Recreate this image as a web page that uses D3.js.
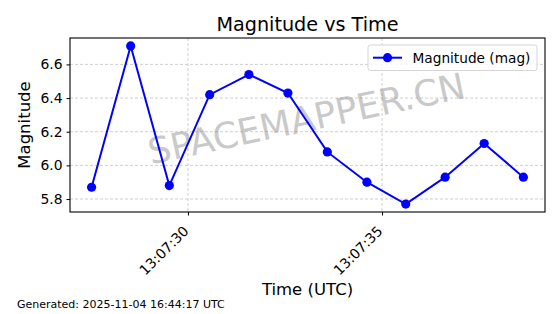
<!DOCTYPE html>
<html>
<head>
<meta charset="utf-8">
<script src="https://cdn.jsdelivr.net/npm/d3@7"></script>
<style>
  body { margin: 0; background: #fff; }
  svg { display: block; font-family: "DejaVu Sans", sans-serif; }
</style>
</head>
<body>
<script>
// readings (UTC time, magnitude)
let times = ["13:07:27.518", "13:07:28.525", "13:07:29.520", "13:07:30.560", "13:07:31.570", "13:07:32.575",
             "13:07:33.590", "13:07:34.610", "13:07:35.610", "13:07:36.625", "13:07:37.630", "13:07:38.640"];
let magnitudes = [5.87, 6.71, 5.88, 6.42, 6.54, 6.43, 6.08, 5.90, 5.77, 5.93, 6.13, 5.93];
let yTicks = [5.8, 6.0, 6.2, 6.4, 6.6];

let w = 560;
let h = 314;
let pLeft = 70, pRight = 545, pTop = 38, pBottom = 212;

let parseTime = d3.timeParse("%H:%M:%S.%L");
let data = times.map((t, i) => ({ t: parseTime(t), v: magnitudes[i] }));

const svg = d3.select("body")
    .append("svg")
    .attr("width", w)
    .attr("height", h);

// matplotlib style 5% margins
let tExt = d3.extent(data, d => +d.t);
let tPad = (tExt[1] - tExt[0]) * 0.05;
let vExt = d3.extent(data, d => d.v);
let vPad = (vExt[1] - vExt[0]) * 0.05;

const xScale = d3.scaleTime()
    .domain([new Date(tExt[0] - tPad), new Date(tExt[1] + tPad)])
    .range([pLeft, pRight]);

const yScale = d3.scaleLinear()
    .domain([vExt[0] - vPad, vExt[1] + vPad])
    .range([pBottom, pTop]);

let xTicks = xScale.ticks(d3.timeSecond.every(5));

// grid
let grid = svg.append("g")
    .attr("stroke", "#b0b0b0")
    .attr("stroke-width", 0.8)
    .attr("stroke-dasharray", "3,2")
    .attr("opacity", 0.75);

grid.selectAll(".gy")
    .data(yTicks)
    .enter()
    .append("line")
    .attr("x1", pLeft).attr("x2", pRight)
    .attr("y1", d => yScale(d)).attr("y2", d => yScale(d));

grid.selectAll(".gx")
    .data(xTicks)
    .enter()
    .append("line")
    .attr("y1", pTop).attr("y2", pBottom)
    .attr("x1", d => xScale(d)).attr("x2", d => xScale(d));

// watermark
svg.append("text")
    .attr("transform", "translate(309,131) rotate(-12)")
    .attr("text-anchor", "middle")
    .style("font-size", "36px")
    .style("fill", "#808080")
    .style("opacity", 0.42)
    .text("SPACEMAPPER.CN");

// line + markers
const line = d3.line()
    .x(d => xScale(d.t))
    .y(d => yScale(d.v));

svg.append("path")
    .datum(data)
    .attr("d", line)
    .attr("fill", "none")
    .attr("stroke", "#0000ff")
    .attr("stroke-width", 2);

svg.selectAll(".dot")
    .data(data)
    .enter()
    .append("circle")
    .attr("class", "dot")
    .attr("cx", d => xScale(d.t))
    .attr("cy", d => yScale(d.v))
    .attr("r", 4.6)
    .attr("fill", "#0000ff");

// axes
const yAxis = d3.axisLeft(yScale).tickValues(yTicks).tickFormat(d3.format(".1f")).tickSize(3.5).tickPadding(4);
const xAxis = d3.axisBottom(xScale).tickValues(xTicks).tickFormat(d3.timeFormat("%H:%M:%S")).tickSize(3.5);

svg.append("g")
    .attr("transform", "translate(" + pLeft + ",0)")
    .call(yAxis)
    .call(g => g.select(".domain").remove())
    .call(g => g.selectAll("text").style("font-size", "13.9px").attr("fill", "#000").style("font-family", "DejaVu Sans"))
    .call(g => g.selectAll("line").attr("stroke", "#000"));

svg.append("g")
    .attr("transform", "translate(0," + pBottom + ")")
    .call(xAxis)
    .call(g => g.select(".domain").remove())
    .call(g => g.selectAll("line").attr("stroke", "#000"))
    .call(g => g.selectAll("text")
        .style("font-size", "13.9px")
        .style("font-family", "DejaVu Sans")
        .attr("fill", "#000")
        .attr("text-anchor", "end")
        .attr("y", null).attr("dy", null)
        .attr("transform", "translate(1,20) rotate(-45)"));

// frame
svg.append("rect")
    .attr("x", pLeft).attr("y", pTop)
    .attr("width", pRight - pLeft).attr("height", pBottom - pTop)
    .attr("fill", "none")
    .attr("stroke", "#000")
    .attr("stroke-width", 1.1);

// title + labels
svg.append("text")
    .attr("x", (pLeft + pRight) / 2).attr("y", 30.5)
    .attr("text-anchor", "middle")
    .style("font-size", "19.2px")
    .text("Magnitude vs Time");

svg.append("text")
    .attr("x", (pLeft + pRight) / 2).attr("y", 295)
    .attr("text-anchor", "middle")
    .style("font-size", "16.5px")
    .text("Time (UTC)");

svg.append("text")
    .attr("transform", "translate(30," + ((pTop + pBottom) / 2) + ") rotate(-90)")
    .attr("text-anchor", "middle")
    .style("font-size", "16.5px")
    .text("Magnitude");

svg.append("text")
    .attr("x", 17).attr("y", 308)
    .style("font-size", "11px")
    .text("Generated: 2025-11-04 16:44:17 UTC");

// legend
let legend = svg.append("g").attr("transform", "translate(368,45)");
legend.append("rect")
    .attr("width", 169).attr("height", 25.5)
    .attr("rx", 2.5)
    .attr("fill", "#fff").attr("fill-opacity", 0.8)
    .attr("stroke", "#d5d5d5");
legend.append("line")
    .attr("x1", 5).attr("x2", 34).attr("y1", 12.7).attr("y2", 12.7)
    .attr("stroke", "#0000ff").attr("stroke-width", 2);
legend.append("circle")
    .attr("cx", 19.5).attr("cy", 12.7).attr("r", 4.6).attr("fill", "#0000ff");
legend.append("text")
    .attr("x", 44.5).attr("y", 17.5)
    .style("font-size", "13.7px")
    .text("Magnitude (mag)");
</script>
</body>
</html>
